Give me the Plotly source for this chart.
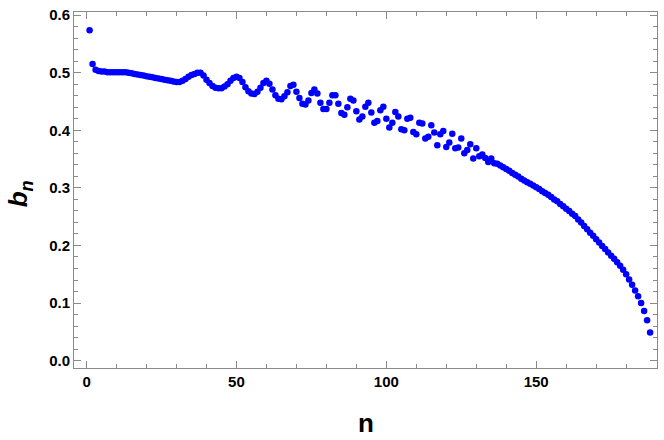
import plotly.graph_objects as go

# Colours
BLUE = "#0000FF"
FRAME_GRAY = "#8a8a8a"
TEXT = "#000000"

# Data (n = 1 .. 188)
b_start = [0.574, 0.515, 0.505, 0.503, 0.502, 0.502, 0.501, 0.501, 0.501, 0.501,
           0.501, 0.501, 0.501, 0.500, 0.499, 0.498, 0.497, 0.496, 0.495, 0.494,
           0.493, 0.492, 0.491, 0.490, 0.489, 0.488, 0.487, 0.486, 0.485, 0.484,
           0.484, 0.486, 0.489, 0.493, 0.496, 0.498, 0.500, 0.500, 0.495, 0.488]
b_wavy = [0.482, 0.477, 0.474, 0.473, 0.473, 0.476, 0.480, 0.486, 0.491, 0.493,
          0.491, 0.484, 0.475, 0.468, 0.464, 0.463, 0.467, 0.474, 0.482, 0.486,
          0.481, 0.471, 0.461, 0.455, 0.454, 0.459, 0.466, 0.477, 0.479, 0.467,
          0.456, 0.446, 0.445, 0.452, 0.465, 0.471, 0.464, 0.448, 0.437, 0.437]
b_scatter = [0.448, 0.461, 0.461, 0.446, 0.430, 0.427, 0.440, 0.455, 0.452, 0.433,
             0.419, 0.424, 0.441, 0.448, 0.431, 0.413, 0.416, 0.435, 0.441, 0.420,
             0.405, 0.413, 0.432, 0.424, 0.402, 0.400, 0.420, 0.422, 0.397, 0.393,
             0.413, 0.412, 0.386, 0.389, 0.409, 0.396, 0.374, 0.393, 0.399, 0.371,
             0.379, 0.394, 0.369, 0.370, 0.386, 0.360, 0.366, 0.376, 0.351, 0.369,
             0.355, 0.358, 0.352, 0.345, 0.351, 0.343]
b_tail = [0.342, 0.339, 0.336, 0.333, 0.330, 0.326, 0.323, 0.320, 0.316, 0.313,
          0.310, 0.307, 0.304, 0.301, 0.298, 0.294, 0.291, 0.288, 0.284, 0.280,
          0.277, 0.272, 0.268, 0.264, 0.260, 0.255, 0.251, 0.245, 0.240, 0.234,
          0.228, 0.222, 0.217, 0.211, 0.205, 0.199, 0.194, 0.188, 0.182, 0.177,
          0.171, 0.165, 0.158, 0.150, 0.141, 0.132, 0.122, 0.112, 0.100, 0.086,
          0.070, 0.049]

b_n = b_start + b_wavy + b_scatter + b_tail
n = list(range(1, len(b_n) + 1))

x_ticks = [0, 50, 100, 150]
y_ticks = [0.0, 0.1, 0.2, 0.3, 0.4, 0.5, 0.6]

fig = go.Figure()
fig.add_trace(go.Scatter(
    x=n, y=b_n,
    mode="markers",
    marker=dict(color=BLUE, size=6.5, line=dict(width=0)),
    showlegend=False,
))

axis_common = dict(
    showline=True, linecolor=FRAME_GRAY, linewidth=1, mirror="ticks",
    ticks="inside", ticklen=7, tickwidth=1, tickcolor=FRAME_GRAY,
    showgrid=False, zeroline=False,
    tickfont=dict(family="Liberation Sans", size=15, color=TEXT, weight="bold"),
)

fig.update_layout(
    width=664, height=440,
    margin=dict(l=74, r=7, t=6, b=72),
    plot_bgcolor="white", paper_bgcolor="white",
    xaxis=dict(
        range=[-4.2, 190.3], tickvals=x_ticks,
        minor=dict(dtick=10, tick0=0, ticks="inside", ticklen=4, tickcolor=FRAME_GRAY),
        **axis_common
    ),
    yaxis=dict(
        range=[-0.0128, 0.6055], tickvals=y_ticks, tickformat=".1f",
        minor=dict(dtick=0.02, tick0=0, ticks="inside", ticklen=4, tickcolor=FRAME_GRAY),
        **axis_common
    ),
    annotations=[
        dict(
            text="<b><i>b</i></b><sub><b><i>n</i></b></sub>",
            xref="paper", yref="paper", x=-0.093, y=0.49,
            xanchor="center", yanchor="middle", textangle=-90, showarrow=False,
            font=dict(family="Liberation Sans", size=26, color=TEXT),
        ),
        dict(
            text="<b>n</b>",
            xref="paper", yref="paper", x=0.5, y=-0.155,
            xanchor="center", yanchor="middle", showarrow=False,
            font=dict(family="Liberation Sans", size=26, color=TEXT),
        ),
    ],
)

# drop the page's default 8px body margin so the figure sits at the window's corner
fig.write_html("out.html", config={"displayModeBar": False},
               post_script="document.body.style.margin='0';")
